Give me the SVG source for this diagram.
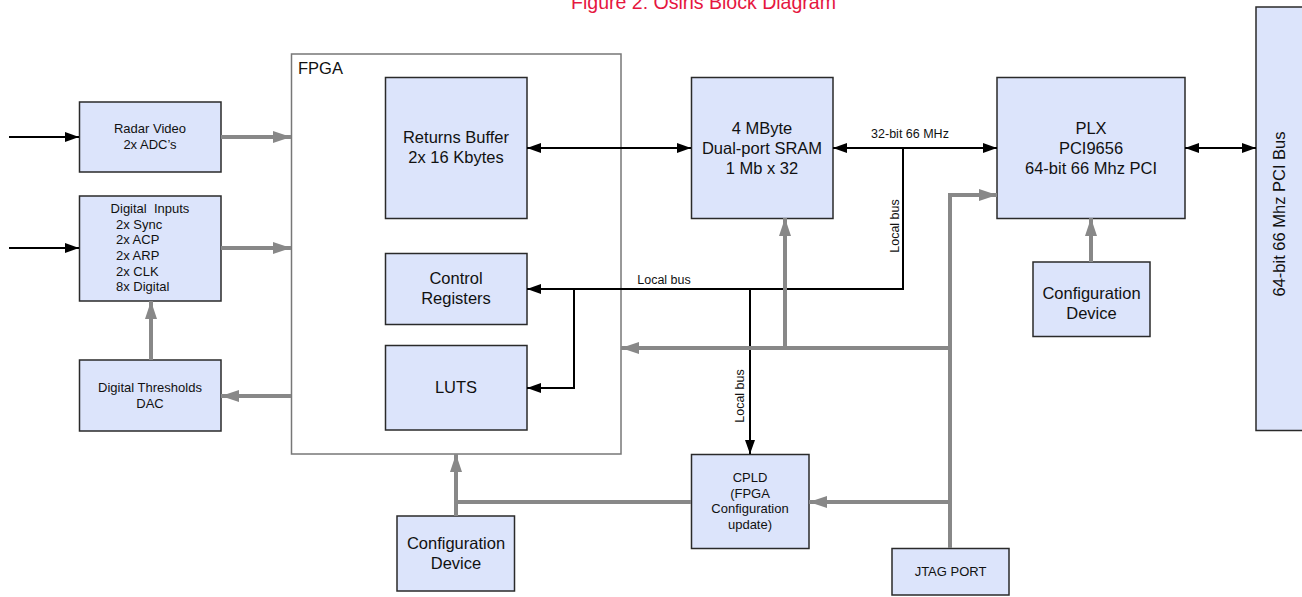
<svg xmlns="http://www.w3.org/2000/svg" width="1302" height="597" viewBox="0 0 1302 597">
<style>
.box{fill:#dce4fb;stroke:#2a2a2a;stroke-width:1.5}
.t{font-family:"Liberation Sans",Arial,sans-serif;fill:#111;text-anchor:middle}
.s{font-size:13px}
.l{font-size:16.5px}
.blk{fill:none;stroke:#000;stroke-width:2}
.gry{fill:none;stroke:#888;stroke-width:4}
</style>
<defs>
<marker id="ab" markerUnits="userSpaceOnUse" viewBox="0 0 14 10" refX="14" refY="5" markerWidth="14" markerHeight="10" orient="auto-start-reverse"><path d="M0,0 L14,5 L0,10 z" fill="#000"/></marker>
<marker id="ag" markerUnits="userSpaceOnUse" viewBox="0 0 18 12" refX="18" refY="6" markerWidth="18" markerHeight="12" orient="auto"><path d="M0,0 L18,6 L0,12 z" fill="#888"/></marker>
</defs>
<rect width="1302" height="597" fill="#fff"/>
<text x="571" y="8.5" font-family="'Liberation Sans',Arial,sans-serif" font-size="20" fill="#e5173f" textLength="265" lengthAdjust="spacingAndGlyphs">Figure 2: Osiris Block Diagram</text>

<g id="fpga">
<rect x="291.5" y="54" width="329.5" height="400" fill="#fff" stroke="#777" stroke-width="1.5"/>
<text x="298" y="74" class="t l" style="text-anchor:start">FPGA</text>
</g>
<g id="pcibus">
<rect x="1256" y="7" width="60" height="423.5" class="box"/>
<text transform="translate(1285,214) rotate(-90)" class="t l">64-bit 66 Mhz PCI Bus</text>
</g>
<g id="radar">
<rect x="79.5" y="102" width="141.5" height="70" class="box"/>
<text x="150" y="132.5" class="t s">Radar Video</text>
<text x="150" y="148.5" class="t s">2x ADC’s</text>
</g>
<g id="digin">
<rect x="79.5" y="196" width="141.5" height="105" class="box"/>
<text x="150" y="212.5" class="t s" style="white-space:pre">Digital  Inputs</text>
<text x="116" y="228.5" class="t s" style="text-anchor:start">2x Sync</text>
<text x="116" y="244" class="t s" style="text-anchor:start">2x ACP</text>
<text x="116" y="260" class="t s" style="text-anchor:start">2x ARP</text>
<text x="116" y="275.5" class="t s" style="text-anchor:start">2x CLK</text>
<text x="116" y="291" class="t s" style="text-anchor:start">8x Digital</text>
</g>
<g id="digthr">
<rect x="79.5" y="360" width="141.5" height="71" class="box"/>
<text x="150" y="391.5" class="t s">Digital Thresholds</text>
<text x="150" y="407.5" class="t s">DAC</text>
</g>
<g id="retbuf">
<rect x="385.5" y="77.5" width="141.5" height="141" class="box"/>
<text x="456" y="142.5" class="t l">Returns Buffer</text>
<text x="456" y="162.5" class="t l">2x 16 Kbytes</text>
</g>
<g id="ctrlreg">
<rect x="385.5" y="253.5" width="141.5" height="71" class="box"/>
<text x="456" y="284" class="t l">Control</text>
<text x="456" y="304" class="t l">Registers</text>
</g>
<g id="luts">
<rect x="385.5" y="345.5" width="141.5" height="84.5" class="box"/>
<text x="456" y="393" class="t l">LUTS</text>
</g>
<g id="sram">
<rect x="691.5" y="77.5" width="141.5" height="141" class="box"/>
<text x="762" y="134" class="t l">4 MByte</text>
<text x="762" y="154" class="t l">Dual-port SRAM</text>
<text x="762" y="174" class="t l">1 Mb x 32</text>
</g>
<g id="plx">
<rect x="997" y="77.5" width="188" height="141" class="box"/>
<text x="1091" y="134" class="t l">PLX</text>
<text x="1091" y="154" class="t l">PCI9656</text>
<text x="1091" y="174" class="t l">64-bit 66 Mhz PCI</text>
</g>
<g id="cfgplx">
<rect x="1033" y="262" width="117" height="74.5" class="box"/>
<text x="1091.5" y="299" class="t l">Configuration</text>
<text x="1091.5" y="319" class="t l">Device</text>
</g>
<g id="cpld">
<rect x="691.5" y="454.5" width="117.5" height="94" class="box"/>
<text x="750" y="482" class="t s">CPLD</text>
<text x="750" y="497.5" class="t s">(FPGA</text>
<text x="750" y="513" class="t s">Configuration</text>
<text x="750" y="529" class="t s">update)</text>
</g>
<g id="cfgfpga">
<rect x="397" y="516" width="117.5" height="75" class="box"/>
<text x="456" y="549" class="t l">Configuration</text>
<text x="456" y="569" class="t l">Device</text>
</g>
<g id="jtag">
<rect x="892" y="548.5" width="117" height="46.5" class="box"/>
<text x="950.5" y="576" class="t s">JTAG PORT</text>
</g>

<g id="connectors">
<path class="blk" d="M9,137 H79" marker-end="url(#ab)"/>
<path class="blk" d="M9,248 H79" marker-end="url(#ab)"/>
<path class="blk" d="M527,148 H691" marker-start="url(#ab)" marker-end="url(#ab)"/>
<path class="blk" d="M833,148 H997" marker-start="url(#ab)" marker-end="url(#ab)"/>
<text x="910" y="138" class="t s" style="font-size:12.5px">32-bit 66 MHz</text>
<path class="blk" d="M1185,148 H1256" marker-start="url(#ab)" marker-end="url(#ab)"/>
<path class="blk" d="M903,148 V289 H527" marker-end="url(#ab)"/>
<text transform="translate(899,226) rotate(-90)" class="t s" style="font-size:12.5px">Local bus</text>
<text x="664" y="284" class="t s" style="font-size:12.5px">Local bus</text>
<path class="blk" d="M574,289 V388 H527" marker-end="url(#ab)"/>
<path class="blk" d="M750,289 V454" marker-end="url(#ab)"/>
<text transform="translate(744,396) rotate(-90)" class="t s" style="font-size:12.5px">Local bus</text>
<path class="gry" d="M221,137 H291" marker-end="url(#ag)"/>
<path class="gry" d="M221,248 H291" marker-end="url(#ag)"/>
<path class="gry" d="M291,396 H221" marker-end="url(#ag)"/>
<path class="gry" d="M151,360 V301" marker-end="url(#ag)"/>
<path class="gry" d="M950,548 V195 H997" marker-end="url(#ag)"/>
<path class="gry" d="M950,348 H621" marker-end="url(#ag)"/>
<path class="gry" d="M785,348 V218" marker-end="url(#ag)"/>
<path class="gry" d="M950,502 H809" marker-end="url(#ag)"/>
<path class="gry" d="M691,502 H456"/>
<path class="gry" d="M456,516 V454" marker-end="url(#ag)"/>
<path class="gry" d="M1091,262 V218" marker-end="url(#ag)"/>
</g>
</svg>
